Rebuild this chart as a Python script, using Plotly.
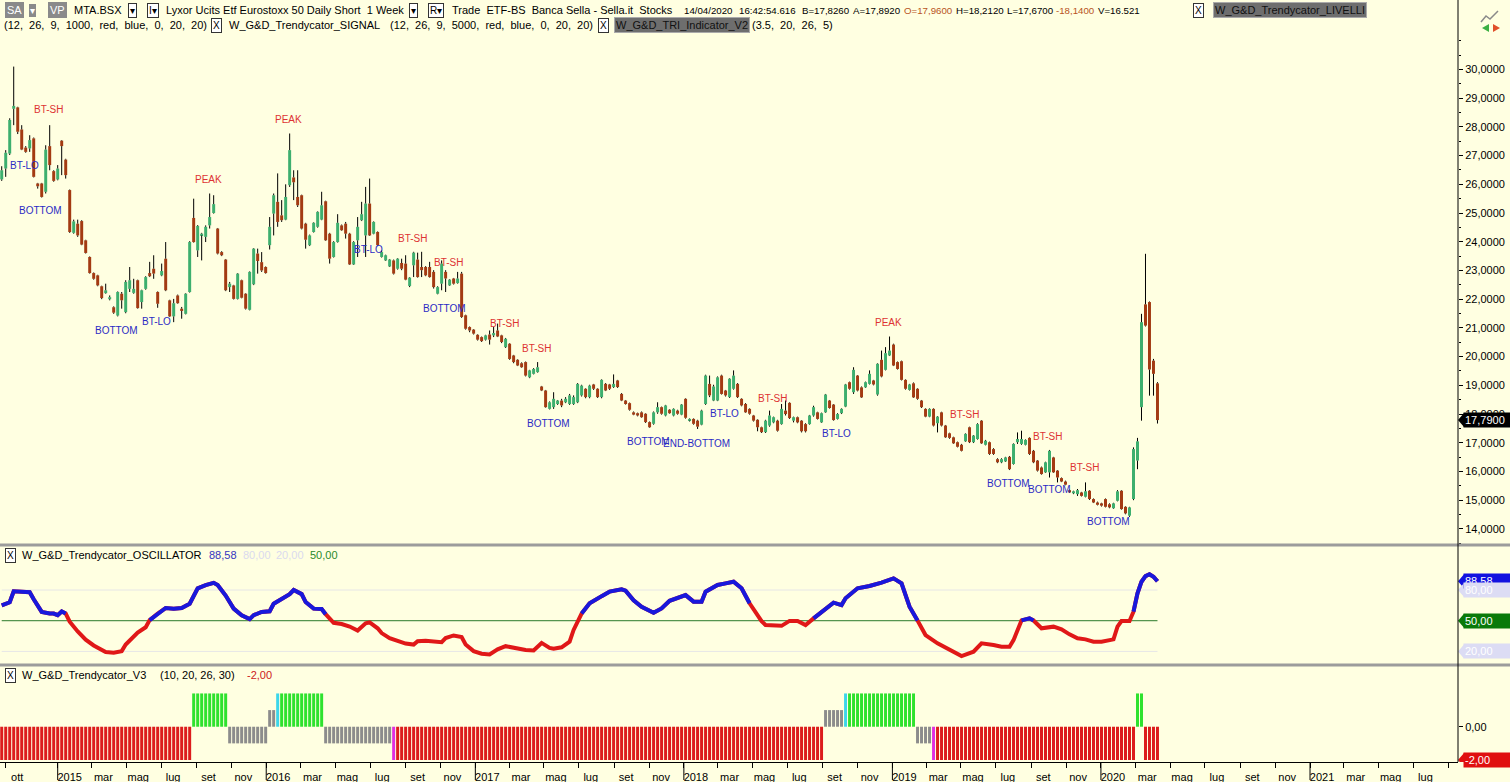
import pandas as pd
import plotly.graph_objects as go
from plotly.subplots import make_subplots

W, H = 1510, 782
ML, MR, MT, MB = 0, 52, 37, 20
PW, PH = W - ML - MR, H - MT - MB

BG = "#FFFFE1"
FONT = "Liberation Sans, Arial, sans-serif"
UP, DOWN = "#3DAF6E", "#A33A12"
SIG_RED, SIG_BLUE = "#DD3333", "#2B2BC4"

# ---- weekly candles ----
first_week = "2014-09-25"

opens = [
    26.17, 26.55, 27.07, 28.63, 28.68, 27.91, 27.28, 27.25, 27.60, 26.03,
    26.03, 25.74, 27.33, 26.46, 26.17, 27.52, 26.86, 25.80, 24.31, 24.63,
    24.72, 24.05, 23.47, 22.91, 22.83, 22.45, 22.21, 22.00, 21.72, 21.43,
    22.19, 21.55, 22.36, 22.22, 22.66, 21.90, 22.36, 22.91, 23.06, 22.25,
    22.83, 23.41, 21.96, 21.40, 22.13, 21.67, 21.49, 22.25, 24.83, 23.70,
    24.22, 24.17, 24.57, 25.00, 24.46, 23.64, 23.38, 22.42, 22.48, 22.01,
    22.66, 22.19, 21.63, 22.52, 23.59, 23.29, 23.12, 23.88, 24.98, 25.39,
    24.92, 24.77, 25.97, 26.24, 25.56, 25.62, 24.63, 23.88, 24.34, 24.52,
    24.77, 25.41, 24.28, 23.47, 23.99, 24.57, 24.63, 24.28, 23.21, 24.05,
    24.75, 24.22, 25.33, 24.28, 24.34, 23.47, 23.35, 23.14, 23.35, 23.06,
    23.26, 23.24, 22.46, 23.18, 23.38, 23.12, 23.12, 23.12, 22.95, 22.19,
    22.54, 22.95, 22.48, 22.72, 22.56, 22.89, 21.44, 21.03, 20.94, 20.76,
    20.68, 20.59, 20.77, 20.74, 20.91, 20.74, 20.33, 20.45, 20.04, 19.89,
    19.77, 19.81, 19.28, 19.40, 19.46, 18.96, 18.82, 18.18, 18.24, 18.35,
    18.47, 18.41, 18.35, 18.35, 18.41, 18.65, 18.88, 18.59, 19.03, 18.88,
    18.59, 19.05, 19.03, 18.94, 19.17, 18.70, 18.47, 18.38, 18.06, 18.03,
    18.06, 18.01, 17.72, 17.66, 18.06, 18.24, 17.95, 18.15, 17.95, 18.12,
    17.98, 18.53, 17.77, 17.83, 17.77, 17.63, 18.35, 19.05, 18.47, 18.47,
    19.34, 18.82, 18.59, 18.88, 19.05, 18.53, 18.35, 18.18, 17.95, 17.80,
    17.54, 17.37, 17.60, 17.71, 17.77, 17.65, 18.12, 18.39, 17.77, 17.89,
    17.77, 17.65, 17.65, 17.95, 18.06, 17.71, 18.06, 18.47, 18.33, 17.83,
    18.03, 18.26, 19.11, 18.76, 19.34, 18.93, 18.93, 19.05, 19.17, 18.68,
    19.89, 19.54, 20.04, 20.42, 19.81, 19.84, 19.19, 18.84, 19.07, 18.88,
    18.47, 18.18, 17.91, 18.18, 17.68, 18.06, 17.60, 17.33, 17.19, 17.02,
    16.93, 17.05, 17.54, 17.02, 17.13, 17.77, 16.93, 17.02, 16.78, 16.43,
    16.32, 16.35, 16.51, 16.26, 17.02, 16.96, 16.93, 17.17, 16.72, 16.38,
    16.14, 15.97, 15.97, 16.49, 16.03, 15.77, 15.65, 15.35, 15.24, 15.21,
    15.27, 15.12, 15.33, 15.04, 14.92, 14.89, 15.04, 14.86, 14.72, 14.98,
    15.33, 14.77, 14.46, 15.04, 16.38, 18.24, 21.82, 21.90, 19.86, 19.07,
]
highs = [
    26.63, 27.19, 28.30, 30.10, 28.70, 28.06, 27.33, 27.71, 27.63, 26.05,
    26.05, 27.36, 28.06, 26.49, 26.67, 27.54, 26.89, 25.82, 24.77, 24.77,
    24.75, 24.07, 23.49, 22.93, 22.85, 22.47, 22.54, 22.13, 21.75, 22.27,
    22.25, 22.66, 23.12, 22.71, 22.68, 22.33, 22.80, 23.30, 23.53, 22.27,
    23.24, 23.99, 21.98, 22.01, 22.16, 21.73, 22.21, 24.02, 25.50, 24.58,
    24.31, 24.57, 25.68, 25.62, 24.48, 23.67, 23.40, 22.60, 22.50, 22.91,
    22.68, 22.21, 22.97, 23.78, 23.76, 23.64, 23.14, 24.86, 25.68, 26.38,
    25.45, 26.00, 27.77, 26.49, 26.49, 25.64, 24.66, 24.25, 24.68, 25.06,
    25.74, 25.43, 24.31, 24.02, 24.96, 24.60, 24.69, 24.31, 24.02, 24.86,
    25.39, 25.91, 26.20, 24.71, 24.36, 23.70, 23.55, 23.40, 23.38, 23.43,
    23.41, 23.53, 22.77, 23.65, 23.62, 23.65, 23.15, 23.30, 23.01, 22.45,
    23.35, 23.01, 22.70, 22.74, 22.95, 22.95, 21.46, 21.05, 20.96, 20.78,
    20.70, 20.76, 20.91, 21.03, 21.15, 20.76, 20.65, 20.47, 20.06, 19.91,
    19.80, 19.83, 19.54, 19.60, 19.81, 18.98, 18.84, 18.44, 18.76, 18.49,
    18.53, 18.59, 18.70, 18.65, 19.08, 19.02, 18.90, 19.02, 19.05, 18.90,
    19.21, 19.08, 19.05, 19.38, 19.19, 18.73, 18.49, 18.40, 18.09, 18.05,
    18.09, 18.03, 17.74, 18.09, 18.41, 18.26, 18.32, 18.17, 18.20, 18.15,
    18.35, 18.55, 17.85, 17.85, 17.80, 18.15, 19.37, 19.34, 19.02, 19.31,
    19.37, 18.84, 19.25, 19.52, 19.08, 18.55, 18.38, 18.20, 17.97, 17.82,
    17.56, 17.80, 18.12, 17.91, 17.80, 18.35, 18.47, 18.41, 17.91, 17.91,
    17.79, 17.68, 17.97, 18.29, 18.08, 18.05, 18.70, 18.49, 18.35, 18.03,
    18.20, 19.05, 19.13, 19.63, 19.36, 18.96, 19.13, 19.52, 19.19, 19.77,
    20.21, 20.33, 20.70, 20.45, 19.83, 19.86, 19.21, 19.05, 19.10, 18.90,
    18.49, 18.20, 18.20, 18.20, 17.93, 18.08, 17.62, 17.35, 17.21, 17.04,
    16.96, 17.33, 17.56, 17.27, 17.68, 17.79, 17.10, 17.04, 16.81, 16.46,
    16.46, 16.51, 16.54, 16.98, 17.36, 17.42, 17.12, 17.19, 16.75, 16.40,
    16.17, 16.34, 16.75, 16.51, 16.05, 15.79, 15.68, 15.37, 15.33, 15.39,
    15.29, 15.62, 15.35, 15.06, 14.95, 14.91, 15.06, 14.89, 14.91, 15.35,
    15.35, 14.79, 14.77, 16.84, 17.17, 21.49, 23.58, 21.92, 19.92, 19.11,
]
lows = [
    26.12, 26.26, 27.02, 28.06, 27.75, 27.19, 27.10, 27.13, 26.24, 25.85,
    25.54, 25.68, 26.49, 26.09, 26.14, 26.32, 26.20, 24.31, 24.28, 24.17,
    23.88, 23.59, 22.89, 22.68, 22.45, 22.00, 22.19, 21.96, 21.49, 21.40,
    21.67, 21.51, 22.25, 22.19, 21.67, 21.67, 22.33, 22.77, 22.71, 21.70,
    22.80, 22.28, 21.38, 21.20, 21.84, 21.32, 21.47, 22.23, 23.97, 23.47,
    23.35, 23.99, 24.46, 24.98, 23.56, 23.50, 22.28, 22.25, 21.99, 21.99,
    22.03, 21.64, 21.61, 22.49, 22.89, 22.95, 22.89, 23.73, 24.22, 24.52,
    24.69, 24.75, 25.91, 25.45, 25.21, 24.43, 23.76, 23.85, 24.32, 24.49,
    24.75, 24.03, 23.24, 23.45, 23.97, 24.38, 24.11, 23.19, 23.19, 23.47,
    24.72, 23.47, 24.20, 24.26, 23.85, 23.45, 23.33, 23.12, 22.86, 23.03,
    23.01, 22.66, 22.42, 22.77, 22.75, 22.77, 22.80, 22.75, 22.37, 22.17,
    22.31, 22.25, 22.46, 22.51, 22.54, 21.35, 20.94, 20.85, 20.77, 20.56,
    20.51, 20.56, 20.42, 20.68, 20.68, 20.47, 20.30, 19.89, 19.77, 19.67,
    19.61, 19.31, 19.25, 19.38, 19.44, 18.80, 18.22, 18.16, 18.18, 18.32,
    18.24, 18.38, 18.32, 18.32, 18.38, 18.61, 18.55, 18.55, 18.84, 18.56,
    18.55, 18.80, 18.84, 18.91, 18.91, 18.45, 18.33, 18.12, 17.96, 17.92,
    17.87, 17.69, 17.52, 17.63, 18.01, 17.98, 17.92, 18.01, 17.92, 17.98,
    17.96, 17.84, 17.74, 17.63, 17.48, 17.61, 18.32, 18.59, 18.45, 18.45,
    18.68, 18.61, 18.56, 18.85, 18.56, 18.27, 18.04, 17.98, 17.74, 17.40,
    17.34, 17.34, 17.56, 17.68, 17.39, 17.63, 17.95, 17.83, 17.71, 17.68,
    17.36, 17.36, 17.63, 17.91, 17.81, 17.69, 18.04, 18.19, 17.77, 17.81,
    18.00, 18.24, 18.85, 18.70, 18.79, 18.56, 18.91, 19.03, 19.00, 18.64,
    19.28, 19.52, 20.02, 19.67, 19.55, 19.17, 18.85, 18.82, 18.56, 18.50,
    18.21, 17.89, 17.89, 17.57, 17.36, 17.57, 17.17, 17.14, 16.96, 16.84,
    16.70, 17.03, 16.99, 16.99, 17.11, 16.96, 16.91, 16.58, 16.58, 16.29,
    16.29, 16.33, 16.05, 16.24, 16.96, 16.93, 16.91, 16.58, 16.29, 16.00,
    15.89, 15.95, 15.79, 15.95, 15.62, 15.63, 15.52, 15.25, 15.21, 15.15,
    15.13, 15.10, 15.01, 14.90, 14.82, 14.78, 14.75, 14.72, 14.70, 14.96,
    14.67, 14.51, 14.42, 15.00, 16.08, 17.77, 21.05, 18.64, 18.64, 17.67,
]
closes = [
    26.49, 27.10, 28.24, 28.73, 27.83, 27.21, 27.13, 27.54, 26.26, 25.93,
    25.56, 27.21, 26.67, 26.12, 26.55, 27.33, 26.32, 24.34, 24.71, 24.22,
    23.90, 23.61, 22.91, 22.71, 22.48, 22.04, 22.31, 22.07, 21.53, 22.25,
    21.96, 22.60, 22.66, 22.36, 21.69, 22.31, 22.77, 22.80, 22.89, 21.84,
    22.98, 22.31, 21.40, 21.86, 21.86, 21.59, 22.19, 23.99, 23.99, 24.55,
    24.28, 24.52, 24.86, 25.31, 23.59, 23.53, 22.31, 22.54, 22.01, 22.89,
    22.05, 21.67, 22.95, 23.76, 23.33, 23.00, 22.91, 24.52, 25.62, 24.69,
    24.75, 25.56, 27.19, 26.07, 25.27, 24.46, 24.07, 24.22, 24.66, 25.04,
    25.27, 24.05, 23.41, 23.99, 24.66, 24.40, 24.28, 23.21, 23.99, 24.52,
    24.96, 25.33, 24.22, 24.69, 23.88, 23.64, 23.53, 23.38, 22.89, 23.41,
    23.06, 22.68, 22.75, 23.62, 22.77, 23.01, 22.83, 22.77, 22.42, 22.42,
    23.24, 22.72, 22.68, 22.54, 22.72, 21.38, 20.97, 20.91, 20.80, 20.59,
    20.54, 20.74, 20.59, 20.82, 20.70, 20.51, 20.62, 19.92, 19.81, 19.69,
    19.63, 19.34, 19.52, 19.57, 19.63, 18.82, 18.24, 18.41, 18.53, 18.47,
    18.30, 18.53, 18.65, 18.59, 19.05, 18.99, 18.59, 18.99, 18.88, 18.59,
    19.19, 18.82, 18.88, 19.05, 18.94, 18.47, 18.35, 18.15, 17.98, 17.95,
    17.89, 17.72, 17.54, 18.06, 18.24, 18.01, 18.30, 18.03, 18.18, 18.01,
    18.33, 17.87, 17.83, 17.66, 17.56, 18.12, 19.34, 18.65, 18.96, 19.28,
    18.70, 18.65, 19.23, 19.34, 18.59, 18.30, 18.06, 18.01, 17.77, 17.54,
    17.37, 17.77, 17.95, 17.89, 17.42, 18.18, 18.00, 17.86, 17.89, 17.71,
    17.40, 17.40, 17.95, 18.24, 17.83, 18.03, 18.68, 18.21, 17.79, 18.00,
    18.18, 19.03, 18.88, 19.54, 18.82, 18.58, 19.11, 19.40, 19.03, 19.75,
    19.31, 20.12, 20.21, 19.69, 19.57, 19.19, 18.88, 19.03, 18.58, 18.53,
    18.24, 17.91, 18.18, 17.60, 17.91, 17.60, 17.19, 17.17, 16.98, 16.86,
    16.72, 17.31, 17.02, 17.25, 17.65, 16.98, 17.07, 16.61, 16.61, 16.32,
    16.43, 16.49, 16.08, 16.96, 17.13, 17.13, 17.10, 16.61, 16.32, 16.03,
    15.91, 16.32, 16.72, 15.97, 15.79, 15.65, 15.54, 15.27, 15.31, 15.35,
    15.15, 15.31, 15.04, 14.92, 14.84, 14.81, 14.77, 14.75, 14.89, 15.31,
    14.69, 14.54, 14.75, 16.78, 17.05, 21.20, 21.08, 19.55, 19.40, 17.79,
]

# signal labels on the price panel (week index, price)
sig_text = ["BT-SH", "BT-LO", "BOTTOM", "PEAK", "PEAK", "BOTTOM", "BT-LO", "BT-LO",
            "BT-SH", "BT-SH", "BOTTOM", "BT-SH", "BT-SH", "BOTTOM", "BOTTOM", "END-BOTTOM",
            "BT-LO", "BT-SH", "BT-LO", "PEAK", "BT-SH", "BT-SH", "BOTTOM", "BOTTOM",
            "BT-SH", "BOTTOM"]
sig_week = [11.8, 5.8, 9.8, 51.8, 71.8, 28.8, 38.8, 91.8, 102.8, 111.8, 110.8, 125.6, 133.8,
            136.8, 161.8, 173.8, 180.8, 192.8, 208.8, 221.8, 240.8, 261.6, 251.8, 262.0,
            270.8, 276.8]
sig_price = [28.62, 26.67, 25.10, 26.18, 28.24, 20.91, 21.22, 23.74, 24.12, 23.28, 21.68,
             21.15, 20.28, 17.66, 17.03, 16.96, 18.01, 18.54, 17.32, 21.19, 17.98, 17.21,
             15.57, 15.36, 16.13, 14.25]

# oscillator (week index, value)
osc_week = [0, 2, 3, 5, 7, 8, 10, 12, 13, 14, 15, 16, 17, 19, 21, 23, 25, 26, 28, 30,
            31, 33, 34, 36, 37, 39, 41, 43, 45, 47, 48, 49, 51, 53, 54, 56, 58, 60, 62, 63,
            65, 67, 68, 70, 72, 73, 75, 76, 78, 80, 81, 83, 85, 87, 89, 91, 92, 94, 95, 97,
            99, 101, 103, 104, 106, 108, 110, 111, 113, 115, 116, 118, 120, 122, 124, 126, 128, 131, 133, 135,
            137, 138, 140, 142, 143, 145, 147, 150, 152, 155, 156, 158, 160, 163, 165, 167, 170, 171, 173, 175,
            176, 179, 181, 183, 185, 187, 190, 191, 195, 197, 199, 201, 203, 205, 208, 210, 211, 214, 217, 220,
            223, 225, 227, 229, 231, 234, 237, 240, 243, 245, 248, 250, 252, 253, 255, 257, 258, 260, 263, 265,
            267, 269, 271, 273, 275, 278, 279, 280, 282, 283, 284, 285, 286, 287, 288, 289]
osc_val = [65, 68, 78.7, 78.7, 77.8, 71, 58.6, 57, 57, 55.4, 59, 57, 49, 39.5, 31.5, 25.8, 22, 19.4, 18.8, 20.3,
           26.7, 34.7, 38.5, 43.6, 50.6, 57, 62.4, 61.8, 62.4, 66.6, 74.6, 81.6, 84.8, 87, 84.8, 74.6, 61.8, 55.4, 51.6, 55.4,
           58.6, 59.2, 66.6, 71.4, 76, 80, 76, 68.2, 61.8, 61.5, 56.4, 48, 46.8, 44.3, 40.4, 47.4, 48.4, 42.6, 37.9, 33,
           30, 27.7, 26.7, 30, 30.5, 29.3, 29, 33, 35.6, 34, 26.7, 20.3, 17.8, 17.1, 22, 25.1, 23.5, 21.3, 21, 28.3,
           23.5, 22.6, 24, 29.5, 41, 57, 67, 74, 78.4, 80.7, 79.3, 70, 63.7, 57.8, 62, 69.5, 74, 75, 68.6, 68.6,
           78.4, 84.9, 86.5, 88.1, 81.7, 67, 49.5, 45.8, 45, 49.8, 49.8, 45.8, 52.3, 58.8, 67.6, 65.3, 71.9, 81.7, 83.9, 87.2,
           91.4, 86.5, 63.7, 50.2, 36, 27.9, 21.4, 15.5, 19.7, 27.9, 26.3, 24.6, 24.6, 31, 50.3, 52.3, 50.2, 42.6, 44.2, 41.6,
           36.7, 32.8, 31.8, 29.5, 29.5, 31.8, 44.2, 49.7, 49.7, 58.8, 76.8, 88.1, 93.5, 95.4, 93, 88.58]
osc_levels = [80, 50, 20]

# Trendycator V3 state bars (run lengths)
v3_state = ["red", "green", "gray_dn", "gray_up", "cyan", "green", "gray_dn", "magenta", "red",
            "gray_up", "cyan", "green", "gray_dn", "magenta", "red", "green", "red"]
v3_len = [48, 9, 10, 2, 1, 11, 17, 1, 107, 5, 1, 17, 4, 1, 50, 2, 4]
v3_level = {"red": -2, "green": 2, "gray_dn": -1, "gray_up": 1, "cyan": 2, "magenta": -2}
v3_color = {"red": "#DC1C1C", "green": "#2EE22E", "gray_dn": "#8C8C8C", "gray_up": "#8C8C8C",
            "cyan": "#3CD6EA", "magenta": "#E030E0"}

# x axis ticks
tick_dates = ["2014-10-01",
              "2015-01-01", "2015-03-01", "2015-05-01", "2015-07-01", "2015-09-01", "2015-11-01",
              "2016-01-01", "2016-03-01", "2016-05-01", "2016-07-01", "2016-09-01", "2016-11-01",
              "2017-01-01", "2017-03-01", "2017-05-01", "2017-07-01", "2017-09-01", "2017-11-01",
              "2018-01-01", "2018-03-01", "2018-05-01", "2018-07-01", "2018-09-01", "2018-11-01",
              "2019-01-01", "2019-03-01", "2019-05-01", "2019-07-01", "2019-09-01", "2019-11-01",
              "2020-01-01", "2020-03-01", "2020-05-01", "2020-07-01", "2020-09-01", "2020-11-01",
              "2021-01-01", "2021-03-01", "2021-05-01", "2021-07-01", "2021-09-01"]
tick_text = ["ott",
             "2015", "mar", "mag", "lug", "set", "nov",
             "2016", "mar", "mag", "lug", "set", "nov",
             "2017", "mar", "mag", "lug", "set", "nov",
             "2018", "mar", "mag", "lug", "set", "nov",
             "2019", "mar", "mag", "lug", "set", "nov",
             "2020", "mar", "mag", "lug", "set", "nov",
             "2021", "mar", "mag", "lug", ""]
year_starts = ["2015-01-01", "2016-01-01", "2017-01-01", "2018-01-01",
               "2019-01-01", "2020-01-01", "2021-01-01"]
price_ticks = [14, 15, 16, 17, 18, 19, 20, 21, 22, 23, 24, 25, 26, 27, 28, 29, 30]
last_price = 17.79
osc_last = 88.58


def px(x):
    return (x - ML) / PW


def py(y):
    return (H - MB - y) / PH


dates = pd.date_range(first_week, periods=len(opens), freq="7D")
week = pd.Timedelta(days=7)
bar_w = 5.2 * 86400000

fig = make_subplots(rows=3, cols=1, shared_xaxes=True, vertical_spacing=0)

# candle bodies + wicks (wicks split so they don't cross the bodies)
body_base, body_h, body_col = [], [], []
wx, wy = [], []
for d, o, h, l, c in zip(dates, opens, highs, lows, closes):
    top, bot = max(o, c), min(o, c)
    body_base.append(bot)
    body_h.append(max(top - bot, 0.04))
    body_col.append(UP if c >= o else DOWN)
    wx += [d, d, None, d, d, None]
    wy += [top, h, None, l, bot, None]

fig.add_trace(go.Bar(x=dates, y=body_h, base=body_base, width=bar_w,
                     marker=dict(color=body_col, line_width=0)), row=1, col=1)
fig.add_trace(go.Scatter(x=wx, y=wy, mode="lines", line=dict(color="black", width=1),
                         hoverinfo="skip"), row=1, col=1)

for t, wk, p in zip(sig_text, sig_week, sig_price):
    col = SIG_RED if t in ("BT-SH", "PEAK") else SIG_BLUE
    fig.add_annotation(x=dates[0] + week * wk, y=p, xref="x", yref="y", text=t, showarrow=False,
                       font=dict(family=FONT, size=10, color=col))

# oscillator
for lv in osc_levels:
    fig.add_trace(go.Scatter(x=[dates[0], dates[-1]], y=[lv, lv], mode="lines",
                             line=dict(color="#2B7A2B" if lv == 50 else "#E6E6E6", width=1),
                             hoverinfo="skip"), row=2, col=1)
osc_x = [dates[i] for i in osc_week]
fig.add_trace(go.Scatter(x=osc_x, y=osc_val, mode="lines",
                         line=dict(color="#E01818", width=4)), row=2, col=1)
fig.add_trace(go.Scatter(x=osc_x, y=[v if v >= 50 else None for v in osc_val], mode="lines",
                         line=dict(color="#1818DC", width=4)), row=2, col=1)

# V3 bars
v3_vals, v3_cols = [], []
for s, n in zip(v3_state, v3_len):
    v3_vals += [v3_level[s]] * n
    v3_cols += [v3_color[s]] * n
fig.add_trace(go.Bar(x=dates, y=v3_vals, width=bar_w, marker=dict(color=v3_cols, line_width=0)),
              row=3, col=1)

fig.update_layout(
    width=W, height=H, margin=dict(l=ML, r=MR, t=MT, b=MB),
    paper_bgcolor=BG, plot_bgcolor=BG, showlegend=False, barmode="overlay",
    separators=",.", font=dict(family=FONT, size=11, color="black"),
)
xr = ["2014-09-22", "2021-09-17"]
for ax in ("xaxis", "xaxis2"):
    fig.layout[ax].update(range=xr, showticklabels=False, ticks="", showgrid=False, zeroline=False)
fig.layout.xaxis3.update(range=xr, type="date", tickvals=tick_dates, ticktext=tick_text,
                         ticks="outside", ticklen=5, tickcolor="black", showline=True,
                         linecolor="black", linewidth=1, showgrid=False, ticklabelshift=12,
                         tickfont=dict(size=11, color="black"))

fig.layout.yaxis.update(domain=[py(545), 1.0], range=[13.44, 31.13], side="right",
                        tickvals=price_ticks, tickformat=".4f", ticks="outside", ticklen=4,
                        tickcolor="black", showgrid=False, zeroline=False,
                        minor=dict(dtick=0.5, ticks="outside", ticklen=2, tickcolor="black"))
fig.layout.yaxis2.update(domain=[py(664), py(546)], range=[7.7, 123.0], side="right",
                         showticklabels=False, ticks="", showgrid=False, zeroline=False)
fig.layout.yaxis3.update(domain=[0, py(666)], range=[-2.12, 3.65], side="right",
                         tickvals=[0], ticktext=["0,00"], ticks="outside", ticklen=4,
                         tickcolor="black", showgrid=False, zeroline=False)


def note(x, y, s, color="black", size=11, bg=None, border=None, pad=0):
    fig.add_annotation(x=px(x), y=py(y), xref="paper", yref="paper", text=s, showarrow=False,
                       xanchor="left", yanchor="middle",
                       font=dict(family=FONT, size=size, color=color),
                       bgcolor=bg or "rgba(0,0,0,0)",
                       bordercolor=border or "rgba(0,0,0,0)",
                       borderwidth=1 if border else 0, borderpad=pad)


def box(x, y, s):
    note(x, y, s, size=10, bg="white", border="#333333", pad=1)


def tag(yref, val, s, bg, fg="white"):
    fig.add_shape(type="path", xref="paper", yref=yref, xsizemode="pixel", ysizemode="pixel",
                  xanchor=px(1458), yanchor=val, path="M0,0 L6,7 L6,-7 Z",
                  fillcolor=bg, line_width=0)
    fig.add_annotation(x=px(1463), xanchor="left", y=val, xref="paper", yref=yref, text=s,
                       showarrow=False, font=dict(family=FONT, size=11, color=fg),
                       bgcolor=bg, borderpad=1, width=44, align="left")


sp = "\u00a0 "
brown = "#B8541E"
# header line 1
note(5, 10, "SA", "white", bg="#8A8A8A", pad=2)
note(29, 10, "▾", "white", size=10, bg="#8A8A8A", pad=1)
note(48, 10, "VP", "white", bg="#8A8A8A", pad=2)
note(74, 10, "MTA.BSX")
box(128, 10, "▾")
box(147, 10, "I▾")
note(166, 10, "Lyxor Ucits Etf Eurostoxx 50 Daily Short" + sp + "1 Week")
box(409, 10, "▾")
box(428, 10, "R▾")
note(452, 10, "Trade" + sp + "ETF-BS" + sp + "Banca Sella - Sella.it" + sp + "Stocks")
quote_x = [684, 739, 802, 853, 904, 956, 1007, 1056, 1098]
quote_s = ["14/04/2020", "16:42:54.616", "B=17,8260", "A=17,8920", "O=17,9600",
           "H=18,2120", "L=17,6700", "-18,1400", "V=16.521"]
for qx, qs in zip(quote_x, quote_s):
    note(qx, 10, qs, brown if qs.startswith(("O=", "-")) else "black", size=9.7)
box(1193, 10, "X")
note(1213, 10, "W_G&amp;D_Trendycator_LIVELLI", "#111111", bg="#6E6E6E", border="#AAAAAA", pad=1)
# header line 2
note(4, 25, "(12," + sp + "26," + sp + "9," + sp + "1000," + sp + "red," + sp + "blue," + sp
     + "0," + sp + "20," + sp + "20)")
box(211, 25, "X")
note(229, 25, "W_G&amp;D_Trendycator_SIGNAL")
note(390, 25, "(12," + sp + "26," + sp + "9," + sp + "5000," + sp + "red," + sp + "blue," + sp
     + "0," + sp + "20," + sp + "20)")
box(598, 25, "X")
note(614, 25, "W_G&amp;D_TRI_Indicator_V2", "#111111", bg="#6E6E6E", border="#AAAAAA", pad=1)
note(752, 25, "(3.5," + sp + "20," + sp + "26," + sp + "5)")

# panel titles
box(5, 555, "X")
note(22, 555, "W_G&amp;D_Trendycator_OSCILLATOR")
note(209, 555, "88,58", "#3535C0")
note(243, 555, "80,00", "#DADAEE")
note(276, 555, "20,00", "#DADAEE")
note(310, 555, "50,00", "#2A8A2A")
box(5, 675, "X")
note(22, 675, "W_G&amp;D_Trendycator_V3")
note(160, 675, "(10, 20, 26, 30)")
note(247, 675, "-2,00", "#CC2020")

# right-hand value tags
tag("y", last_price, "17,7900", "black")
tag("y2", osc_last, "88,58", "#1212E0")
tag("y2", 80, "80,00", "#DCDCF4")
tag("y2", 50, "50,00", "#0A7A0A")
tag("y2", 20, "20,00", "#DCDCF4")
tag("y3", -2, "-2,00", "#E01010")

# panel separators, price-axis line, year marks
for yy in (545, 665):
    fig.add_shape(type="line", xref="paper", yref="paper", x0=px(0), x1=px(W), y0=py(yy), y1=py(yy),
                  line=dict(color="#9C9C9C", width=3))
fig.add_shape(type="line", xref="paper", yref="paper", x0=px(1458), x1=px(1458), y0=py(0), y1=py(762),
              line=dict(color="black", width=1))
for ys in year_starts:
    fig.add_shape(type="line", xref="x3", yref="paper", x0=ys, x1=ys, y0=py(762), y1=py(780),
                  line=dict(color="black", width=1))

# small toolbar icon top right
fig.add_shape(type="path", xref="paper", yref="paper",
              path="M %f,%f L %f,%f L %f,%f L %f,%f" % (px(1481), py(22), px(1486), py(16),
                                                         px(1490), py(19), px(1498), py(11)),
              line=dict(color="#8A8A8A", width=1.5))
fig.add_shape(type="path", xref="paper", yref="paper",
              path="M %f,%f L %f,%f L %f,%f Z" % (px(1482), py(28), px(1489), py(24), px(1489), py(32)),
              fillcolor="#3CB043", line_width=0)
fig.add_shape(type="path", xref="paper", yref="paper",
              path="M %f,%f L %f,%f L %f,%f Z" % (px(1500), py(28), px(1493), py(24), px(1493), py(32)),
              fillcolor="#E0502A", line_width=0)

# the page's default body margin would push the 1510x782 figure out of the window
fig.write_html("out.html", config={"displayModeBar": False},
               post_script="document.body.style.margin='0';")
